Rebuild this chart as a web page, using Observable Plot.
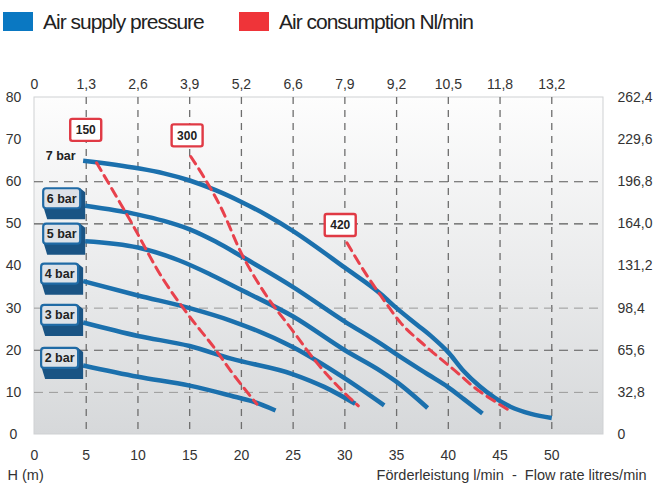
<!DOCTYPE html>
<html><head><meta charset="utf-8">
<script src="https://cdn.jsdelivr.net/npm/d3@7"></script>
<script src="https://cdn.jsdelivr.net/npm/@observablehq/plot@0.6"></script>
<style>
body{margin:0;background:#fff;font-family:"Liberation Sans",Arial,sans-serif;}
#legend{position:relative;height:45px;width:653px;}
.sw{position:absolute;top:12px;width:30px;height:19px;}
.lt{position:absolute;top:10px;font-size:21px;letter-spacing:-1px;color:#222;line-height:24px;white-space:nowrap;}
#chart svg{display:block;}
</style></head><body>
<div id="legend">
  <div class="sw" style="left:3px;background:#0a78c2"></div><div class="lt" style="left:43px">Air supply pressure</div>
  <div class="sw" style="left:239px;background:#ef3439"></div><div class="lt" style="left:279px">Air consumption Nl/min</div>
</div>
<div id="chart"></div>
<script>
// ---- data ----
const pressureLabels = ["7 bar","6 bar","5 bar","4 bar","3 bar","2 bar"];
const flow7 = [4.7,10,12.5,15,17.5,20,22.5,25,30,33.5,35,37,38.5,40,41.5,43,44.5,46,48,50];
const head7 = [65,63.2,62,60.3,58,55.2,52,48.3,39.6,33.3,30,26,23,19.5,15,11.5,8.7,6.6,4.9,3.9];
const flow6 = [4.9,10,12.5,15,17.5,20,25,30,33.5,35,38,40,41.5,43.3];
const head6 = [54.3,52.2,50.7,48.7,45.8,42.3,35,26.8,21.5,19,14.3,11.2,8.4,5];
const flow5 = [4.9,10,14,17,20,25,30,33.5,35,38];
const head5 = [45.9,44.4,41.3,38,34.3,28,20,15,12.5,6.3];
const flow4 = [4.7,10,15,19,25,30,33.8];
const head4 = [36.4,33,30,27,20.7,13.3,6.9];
const flow3 = [4.7,10,15,19,25,28,31];
const head3 = [26.6,23.4,21,18,14.3,11.3,7.3];
const flow2 = [4.7,10,15,19,21,23.3];
const head2 = [16.4,13.7,11.6,9.2,7.9,5.7];

const consumptionLabels = ["150","300","420"];
const flowC150 = [6,9.3,12.4,14.8,17.4,19,21.5];
const headC150 = [64.5,50.6,37,28.6,20.5,15,7.2];
const flowC300 = [15.1,16.4,18,20,22,25,27.3,29.5,31.3];
const headC300 = [66,61,54,43,34.5,24.5,17,11,6.8];
const flowC420 = [30.2,32.2,33.6,35.4,37.7,41,42.5,44.4,45.9];
const headC420 = [45.5,37.5,32.5,26.5,21.2,14.4,11.2,8,5.7];
const consumptionLabelFlow = [5,14.8,29.6];
const consumptionLabelHead = [72.2,70.9,49.6];

const bottomTicks = [0,5,10,15,20,25,30,35,40,45,50];
const topTickLabels = ["0","1,3","2,6","3,9","5,2","6,6","7,9","9,2","10,5","11,8","13,2"];
const leftTicks = [0,10,20,30,40,50,60,70,80];
const rightTickLabels = ["0","32,8","65,6","98,4","131,2","164,0","196,8","229,6","262,4"];
const gridXValues = [5,10,15,20,25,30,35,40,45,50];
const gridYDark = [20,50,60];
const gridYLight = [10,30];
const xLabel = "Förderleistung l/min  -  Flow rate litres/min";
const yLabel = "H (m)";

// ---- tables ----
const pFlows = [flow7,flow6,flow5,flow4,flow3,flow2];
const pHeads = [head7,head6,head5,head4,head3,head2];
const pressure = pressureLabels.flatMap((p,i)=>pFlows[i].map((f,j)=>({pressure:p, flow:f, head:pHeads[i][j]})));
const cFlows = [flowC150,flowC300,flowC420];
const cHeads = [headC150,headC300,headC420];
const consumption = consumptionLabels.flatMap((c,i)=>cFlows[i].map((f,j)=>({label:c, flow:f, head:cHeads[i][j]})));

const NS = "http://www.w3.org/2000/svg";
function el(tag, attrs, text){const e=document.createElementNS(NS,tag);for(const k in attrs)e.setAttribute(k,attrs[k]);if(text!=null)e.textContent=text;return e;}

function background(index, scales, values, dims){
  const g = el("g",{});
  const defs = el("defs",{});
  const lg = el("linearGradient",{id:"bggrad",x1:"0",y1:"0",x2:"0",y2:"1"});
  lg.appendChild(el("stop",{offset:"0%","stop-color":"#fdfdfd"}));
  lg.appendChild(el("stop",{offset:"55%","stop-color":"#e9eaeb"}));
  lg.appendChild(el("stop",{offset:"100%","stop-color":"#d6d8da"}));
  defs.appendChild(lg); g.appendChild(defs);
  const x0=dims.marginLeft, y0=dims.marginTop, w=dims.width-dims.marginLeft-dims.marginRight, h=dims.height-dims.marginTop-dims.marginBottom;
  g.appendChild(el("rect",{x:x0,y:y0,width:w,height:h,fill:"url(#bggrad)",stroke:"#cfd1d3","stroke-width":1}));
  return g;
}

function labels(index, scales){
  const g = el("g",{"font-family":'"Liberation Sans", Arial, sans-serif',"font-weight":"bold"});
  pressureLabels.forEach((p,i)=>{
    const sx = scales.x(pFlows[i][0]), sy = scales.y(pHeads[i][0]);
    if(i===0){
      g.appendChild(el("text",{x:sx-7,y:sy-5,"text-anchor":"end",dy:"0.35em","font-size":"12.5px",fill:"#222"},p));
      return;
    }
    const w=37,h=20,cx=sx-23,cy=sy-7,x0=cx-w/2,y0=cy-h/2;
    g.appendChild(el("path",{d:`M${x0},${y0+h-2}L${x0+4},${y0+h+11}L${x0+w+5},${y0+h+11}L${x0+w+5},${y0+4}L${x0+w},${y0}Z`,fill:"#1a5484"}));
    g.appendChild(el("rect",{x:x0,y:y0,width:w,height:h,rx:3,fill:"#dde2e8",stroke:"#1f6aa5","stroke-width":2.2}));
    g.appendChild(el("text",{x:cx,y:cy,"text-anchor":"middle",dy:"0.35em","font-size":"12.5px",fill:"#222"},p));
  });
  consumptionLabels.forEach((c,i)=>{
    const cx = scales.x(consumptionLabelFlow[i]), cy = scales.y(consumptionLabelHead[i]);
    const w=31,h=22;
    g.appendChild(el("rect",{x:cx-w/2,y:cy-h/2,width:w,height:h,rx:2,fill:"#fff",stroke:"#e03a45","stroke-width":2.4}));
    g.appendChild(el("text",{x:cx,y:cy,"text-anchor":"middle",dy:"0.36em","font-size":"12px",fill:"#222"},c));
  });
  return g;
}

const plot = Plot.plot({
  width: 653, height: 446,
  marginLeft: 34, marginRight: 50, marginTop: 52, marginBottom: 57,
  x: {domain: [0,55]},
  y: {domain: [0,80]},
  style: {fontFamily: '"Liberation Sans", Arial, sans-serif', fontSize: "14px", color: "#333", background: "transparent"},
  marks: [
    background,
    Plot.ruleX(gridXValues, {x: d=>d, stroke: "#6e6e6e", strokeWidth: 1.3, strokeDasharray: "7,6"}),
    Plot.ruleY(gridYDark, {y: d=>d, stroke: "#5a5a5a", strokeWidth: 1.2, strokeDasharray: "9,6"}),
    Plot.ruleY(gridYLight, {y: d=>d, stroke: "#9a9a9a", strokeWidth: 1, strokeDasharray: "9,6"}),
    Plot.axisX({anchor: "bottom", ticks: bottomTicks, tickSize: 0, tickPadding: 16, label: null, fontSize: 14}),
    Plot.axisX({anchor: "top", ticks: bottomTicks, tickFormat: d=>topTickLabels[bottomTicks.indexOf(d)], tickSize: 0, tickPadding: 9, label: null, fontSize: 14}),
    Plot.axisY({anchor: "left", ticks: leftTicks, tickSize: 0, tickPadding: 21, textAnchor: "middle", label: null, fontSize: 14}),
    Plot.axisY({anchor: "right", ticks: leftTicks, tickFormat: d=>rightTickLabels[leftTicks.indexOf(d)], tickSize: 0, tickPadding: 14, label: null, fontSize: 14}),
    Plot.line(pressure, {x: "flow", y: "head", z: "pressure", stroke: "#1b70ad", strokeWidth: 4.5, curve: "monotone-x", strokeLinecap: "butt"}),
    Plot.line(consumption, {x: "flow", y: "head", z: "label", stroke: "#e8414c", strokeWidth: 3, strokeDasharray: "9,6", curve: "monotone-x"}),
    labels,
    Plot.text([yLabel], {text: d=>d, frameAnchor: "bottom-left", textAnchor: "start", dx: -27, dy: 45, fontSize: 14.5, fill: "#333"}),
    Plot.text([xLabel], {text: d=>d, frameAnchor: "bottom-right", textAnchor: "end", dx: 43, dy: 45, fontSize: 14.5, fill: "#333"})
  ]
});
document.getElementById("chart").appendChild(plot);
</script>
</body></html>
